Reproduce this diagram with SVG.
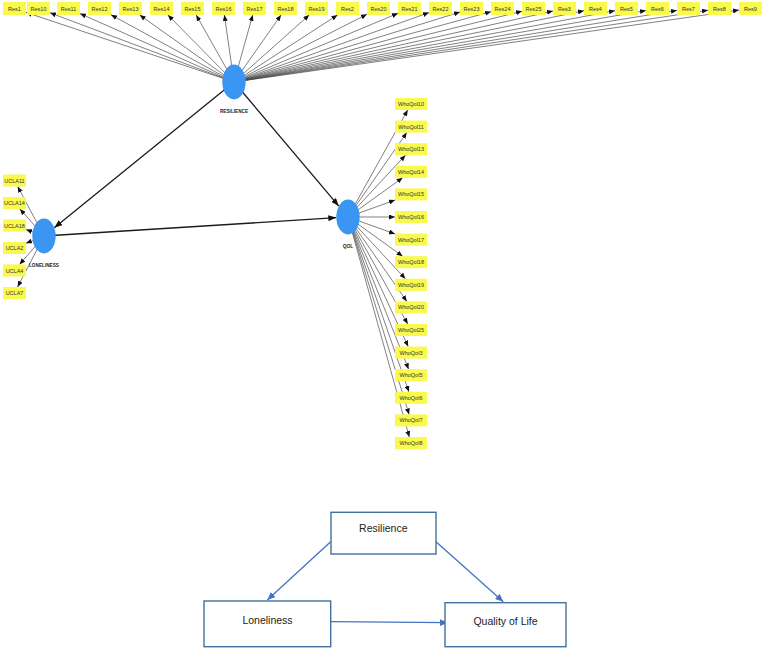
<svg xmlns="http://www.w3.org/2000/svg" width="767" height="650" viewBox="0 0 767 650">
  <style>
    .ind { stroke: #4a4a4a; stroke-width: 0.7; fill: none; marker-end: url(#ahInd); }
    .str { stroke: #1a1a1a; stroke-width: 1.3; fill: none; marker-end: url(#ahStr); }
    .blu { stroke: #4472C4; stroke-width: 1.3; fill: none; marker-end: url(#ahBlue); }
    .item rect { fill: #f9f94e; }
    .item text { font-family: "Liberation Sans", Arial, sans-serif; font-size: 5.5px; fill: #333; text-anchor: middle; }
    .lv ellipse { fill: #3a96f2; }
    .lv text { font-family: "Liberation Sans", Arial, sans-serif; font-size: 6px; font-weight: bold; fill: #222; text-anchor: middle; }
    .box rect { fill: #ffffff; stroke: #41719C; stroke-width: 1.4; }
    .box text { font-family: "Liberation Sans", Arial, sans-serif; font-size: 10.5px; fill: #222; text-anchor: middle; }
  </style>
  <defs>
    <marker id="ahInd" markerUnits="userSpaceOnUse" markerWidth="6" markerHeight="5" viewBox="0 0 6 5" refX="6" refY="2.5" orient="auto">
      <path d="M0,0 L6,2.5 L0,5 z" fill="#111"/>
    </marker>
    <marker id="ahStr" markerUnits="userSpaceOnUse" markerWidth="8" markerHeight="6" viewBox="0 0 8 6" refX="8" refY="3" orient="auto">
      <path d="M0,0 L8,3 L0,6 z" fill="#111"/>
    </marker>
    <marker id="ahBlue" markerUnits="userSpaceOnUse" markerWidth="8" markerHeight="7" viewBox="0 0 8 7" refX="8" refY="3.5" orient="auto">
      <path d="M0,0 L8,3.5 L0,7 z" fill="#4472C4"/>
    </marker>
  </defs>

  <rect width="767" height="650" fill="#ffffff"/>

  <!-- connectors: measurement paths, structural paths, conceptual model arrows -->
  <g id="connectors">
    <!-- RESILIENCE indicators -->
    <line class="ind" x1="234" y1="82" x2="26" y2="12.4"/>
    <line class="ind" x1="234" y1="82" x2="50" y2="12.8"/>
    <line class="ind" x1="234" y1="82" x2="80" y2="13.6"/>
    <line class="ind" x1="234" y1="82" x2="111" y2="14.8"/>
    <line class="ind" x1="234" y1="82" x2="139.7" y2="15"/>
    <line class="ind" x1="234" y1="82" x2="167.9" y2="15"/>
    <line class="ind" x1="234" y1="82" x2="196.2" y2="15"/>
    <line class="ind" x1="234" y1="82" x2="224.4" y2="15"/>
    <line class="ind" x1="234" y1="82" x2="252.7" y2="15"/>
    <line class="ind" x1="234" y1="82" x2="281" y2="15"/>
    <line class="ind" x1="234" y1="82" x2="309.2" y2="15"/>
    <line class="ind" x1="234" y1="82" x2="337.5" y2="15"/>
    <line class="ind" x1="234" y1="82" x2="367" y2="14.3"/>
    <line class="ind" x1="234" y1="82" x2="398" y2="13.3"/>
    <line class="ind" x1="234" y1="82" x2="429" y2="12.6"/>
    <line class="ind" x1="234" y1="82" x2="460" y2="12.1"/>
    <line class="ind" x1="234" y1="82" x2="491" y2="11.7"/>
    <line class="ind" x1="234" y1="82" x2="522" y2="11.3"/>
    <line class="ind" x1="234" y1="82" x2="553" y2="11.1"/>
    <line class="ind" x1="234" y1="82" x2="584" y2="10.8"/>
    <line class="ind" x1="234" y1="82" x2="615" y2="10.7"/>
    <line class="ind" x1="234" y1="82" x2="646" y2="10.5"/>
    <line class="ind" x1="234" y1="82" x2="677" y2="10.4"/>
    <line class="ind" x1="234" y1="82" x2="708" y2="10.2"/>
    <line class="ind" x1="234" y1="82" x2="739" y2="10.1"/>
    <!-- LONELINESS indicators -->
    <line class="ind" x1="44" y1="236" x2="17.7" y2="186.5"/>
    <line class="ind" x1="44" y1="236" x2="19.9" y2="209"/>
    <line class="ind" x1="44" y1="236" x2="26" y2="229.6"/>
    <line class="ind" x1="44" y1="236" x2="26" y2="243.3"/>
    <line class="ind" x1="44" y1="236" x2="19.6" y2="264.5"/>
    <line class="ind" x1="44" y1="236" x2="17.6" y2="287"/>
    <!-- QOL indicators -->
    <line class="ind" x1="348" y1="217" x2="407.7" y2="110"/>
    <line class="ind" x1="348" y1="217" x2="406.8" y2="132.6"/>
    <line class="ind" x1="348" y1="217" x2="405.4" y2="155.2"/>
    <line class="ind" x1="348" y1="217" x2="402.6" y2="177.8"/>
    <line class="ind" x1="348" y1="217" x2="395" y2="200.1"/>
    <line class="ind" x1="348" y1="217" x2="395" y2="217"/>
    <line class="ind" x1="348" y1="217" x2="395" y2="233.9"/>
    <line class="ind" x1="348" y1="217" x2="402.6" y2="256.2"/>
    <line class="ind" x1="348" y1="217" x2="405.4" y2="278.8"/>
    <line class="ind" x1="348" y1="217" x2="406.8" y2="301.4"/>
    <line class="ind" x1="348" y1="217" x2="407.7" y2="324"/>
    <line class="ind" x1="348" y1="217" x2="408.2" y2="346.6"/>
    <line class="ind" x1="348" y1="217" x2="408.6" y2="369.2"/>
    <line class="ind" x1="348" y1="217" x2="408.9" y2="391.8"/>
    <line class="ind" x1="348" y1="217" x2="409.1" y2="414.4"/>
    <line class="ind" x1="348" y1="217" x2="409.3" y2="437"/>
    <!-- structural paths -->
    <line class="str" x1="234" y1="82" x2="54.3" y2="227.7"/>
    <line class="str" x1="234" y1="82" x2="338.8" y2="206.1"/>
    <line class="str" x1="44" y1="236" x2="336.3" y2="217.7"/>
    <!-- conceptual model -->
    <line class="blu" x1="330.7" y1="541.7" x2="267.3" y2="600"/>
    <line class="blu" x1="436" y1="541.7" x2="503.3" y2="601.7"/>
    <line class="blu" x1="330.7" y1="621.7" x2="447.7" y2="622.7"/>
  </g>

  <!-- Resilience indicator boxes -->
  <g id="res-items" class="item">
    <g id="Res1"><rect x="3" y="2" width="23" height="13"/><text x="14.5" y="10.5">Res1</text></g>
    <g id="Res10"><rect x="27" y="2" width="23" height="13"/><text x="38.5" y="10.5">Res10</text></g>
    <g id="Res11"><rect x="57" y="2" width="23" height="13"/><text x="68.5" y="10.5">Res11</text></g>
    <g id="Res12"><rect x="88" y="2" width="23" height="13"/><text x="99.5" y="10.5">Res12</text></g>
    <g id="Res13"><rect x="119" y="2" width="23" height="13"/><text x="130.5" y="10.5">Res13</text></g>
    <g id="Res14"><rect x="150" y="2" width="23" height="13"/><text x="161.5" y="10.5">Res14</text></g>
    <g id="Res15"><rect x="181" y="2" width="23" height="13"/><text x="192.5" y="10.5">Res15</text></g>
    <g id="Res16"><rect x="212" y="2" width="23" height="13"/><text x="223.5" y="10.5">Res16</text></g>
    <g id="Res17"><rect x="243" y="2" width="23" height="13"/><text x="254.5" y="10.5">Res17</text></g>
    <g id="Res18"><rect x="274" y="2" width="23" height="13"/><text x="285.5" y="10.5">Res18</text></g>
    <g id="Res19"><rect x="305" y="2" width="23" height="13"/><text x="316.5" y="10.5">Res19</text></g>
    <g id="Res2"><rect x="336" y="2" width="23" height="13"/><text x="347.5" y="10.5">Res2</text></g>
    <g id="Res20"><rect x="367" y="2" width="23" height="13"/><text x="378.5" y="10.5">Res20</text></g>
    <g id="Res21"><rect x="398" y="2" width="23" height="13"/><text x="409.5" y="10.5">Res21</text></g>
    <g id="Res22"><rect x="429" y="2" width="23" height="13"/><text x="440.5" y="10.5">Res22</text></g>
    <g id="Res23"><rect x="460" y="2" width="23" height="13"/><text x="471.5" y="10.5">Res23</text></g>
    <g id="Res24"><rect x="491" y="2" width="23" height="13"/><text x="502.5" y="10.5">Res24</text></g>
    <g id="Res25"><rect x="522" y="2" width="23" height="13"/><text x="533.5" y="10.5">Res25</text></g>
    <g id="Res3"><rect x="553" y="2" width="23" height="13"/><text x="564.5" y="10.5">Res3</text></g>
    <g id="Res4"><rect x="584" y="2" width="23" height="13"/><text x="595.5" y="10.5">Res4</text></g>
    <g id="Res5"><rect x="615" y="2" width="23" height="13"/><text x="626.5" y="10.5">Res5</text></g>
    <g id="Res6"><rect x="646" y="2" width="23" height="13"/><text x="657.5" y="10.5">Res6</text></g>
    <g id="Res7"><rect x="677" y="2" width="23" height="13"/><text x="688.5" y="10.5">Res7</text></g>
    <g id="Res8"><rect x="708" y="2" width="23" height="13"/><text x="719.5" y="10.5">Res8</text></g>
    <g id="Res9"><rect x="739" y="2" width="23" height="13"/><text x="750.5" y="10.5">Res9</text></g>
  </g>

  <!-- Loneliness indicator boxes -->
  <g id="ucla-items" class="item">
    <g id="UCLA11"><rect x="3" y="174.5" width="23" height="12"/><text x="14.5" y="182.5" font-size="5">UCLA11</text></g>
    <g id="UCLA14"><rect x="3" y="197" width="23" height="12"/><text x="14.5" y="205" font-size="5">UCLA14</text></g>
    <g id="UCLA18"><rect x="3" y="219.5" width="23" height="12"/><text x="14.5" y="227.5" font-size="5">UCLA18</text></g>
    <g id="UCLA2"><rect x="3" y="242" width="23" height="12"/><text x="14.5" y="250" font-size="5">UCLA2</text></g>
    <g id="UCLA4"><rect x="3" y="264.5" width="23" height="12"/><text x="14.5" y="272.5" font-size="5">UCLA4</text></g>
    <g id="UCLA7"><rect x="3" y="287" width="23" height="12"/><text x="14.5" y="295" font-size="5">UCLA7</text></g>
  </g>

  <!-- Quality of life indicator boxes -->
  <g id="whoqol-items" class="item">
    <g id="WhoQol10"><rect x="395" y="98" width="32" height="12"/><text x="411" y="106">WhoQol10</text></g>
    <g id="WhoQol11"><rect x="395" y="120.6" width="32" height="12"/><text x="411" y="128.6">WhoQol11</text></g>
    <g id="WhoQol13"><rect x="395" y="143.2" width="32" height="12"/><text x="411" y="151.2">WhoQol13</text></g>
    <g id="WhoQol14"><rect x="395" y="165.8" width="32" height="12"/><text x="411" y="173.8">WhoQol14</text></g>
    <g id="WhoQol15"><rect x="395" y="188.4" width="32" height="12"/><text x="411" y="196.4">WhoQol15</text></g>
    <g id="WhoQol16"><rect x="395" y="211" width="32" height="12"/><text x="411" y="219">WhoQol16</text></g>
    <g id="WhoQol17"><rect x="395" y="233.6" width="32" height="12"/><text x="411" y="241.6">WhoQol17</text></g>
    <g id="WhoQol18"><rect x="395" y="256.2" width="32" height="12"/><text x="411" y="264.2">WhoQol18</text></g>
    <g id="WhoQol19"><rect x="395" y="278.8" width="32" height="12"/><text x="411" y="286.8">WhoQol19</text></g>
    <g id="WhoQol20"><rect x="395" y="301.4" width="32" height="12"/><text x="411" y="309.4">WhoQol20</text></g>
    <g id="WhoQol25"><rect x="395" y="324" width="32" height="12"/><text x="411" y="332">WhoQol25</text></g>
    <g id="WhoQol3"><rect x="395" y="346.6" width="32" height="12"/><text x="411" y="354.6">WhoQol3</text></g>
    <g id="WhoQol5"><rect x="395" y="369.2" width="32" height="12"/><text x="411" y="377.2">WhoQol5</text></g>
    <g id="WhoQol6"><rect x="395" y="391.8" width="32" height="12"/><text x="411" y="399.8">WhoQol6</text></g>
    <g id="WhoQol7"><rect x="395" y="414.4" width="32" height="12"/><text x="411" y="422.4">WhoQol7</text></g>
    <g id="WhoQol8"><rect x="395" y="437" width="32" height="12"/><text x="411" y="445">WhoQol8</text></g>
  </g>

  <!-- latent variables -->
  <g id="RESILIENCE" class="lv">
    <ellipse cx="234" cy="82" rx="11.7" ry="17.5"/>
    <text x="234" y="113.2" textLength="28" lengthAdjust="spacingAndGlyphs">RESILIENCE</text>
  </g>
  <g id="LONELINESS" class="lv">
    <ellipse cx="44" cy="236" rx="11.7" ry="17.5"/>
    <text x="44" y="266.5" textLength="30" lengthAdjust="spacingAndGlyphs">LONELINESS</text>
  </g>
  <g id="QOL" class="lv">
    <ellipse cx="348" cy="217" rx="11.7" ry="17.5"/>
    <text x="348" y="248" textLength="10.5" lengthAdjust="spacingAndGlyphs">QOL</text>
  </g>

  <!-- conceptual model boxes -->
  <g id="box-resilience" class="box">
    <rect x="331" y="512.3" width="105" height="41.7"/>
    <text x="383.3" y="532">Resilience</text>
  </g>
  <g id="box-loneliness" class="box">
    <rect x="204" y="601" width="126.7" height="45.7"/>
    <text x="267.5" y="624">Loneliness</text>
  </g>
  <g id="box-qol" class="box">
    <rect x="445" y="602.7" width="121" height="44"/>
    <text x="505.5" y="624.5">Quality of Life</text>
  </g>
</svg>
